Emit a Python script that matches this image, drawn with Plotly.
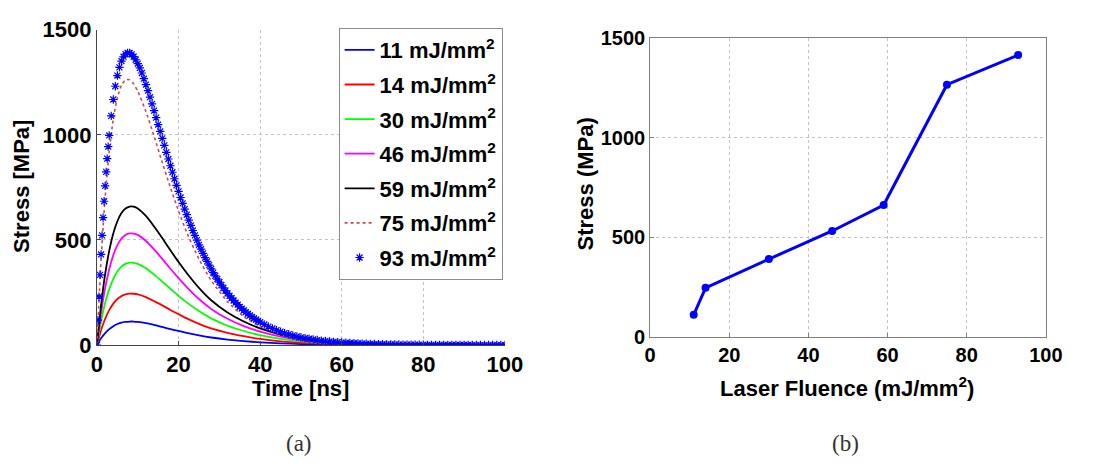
import plotly.graph_objects as go

W, H = 1102, 472

# ---------------- data: (a) stress vs time ----------------
time_ns = [0, 0.5, 1, 1.5, 2, 3, 4, 5, 6, 7, 8, 9, 10, 12, 14, 16, 18, 20, 22, 25,
           28, 32, 36, 40, 45, 50, 55, 60, 70, 80, 90, 100]
s11 = [0, 17, 32, 45, 57, 76, 90, 100, 107, 110, 112, 112, 110, 104, 96, 86, 76, 67, 58, 46,
       36, 26, 19, 13, 8, 5, 3, 2, 1, 0, 0, 0]
s14 = [0, 37, 70, 99, 125, 166, 197, 219, 233, 241, 245, 244, 241, 228, 209, 189, 167, 147, 127, 101,
       79, 58, 42, 29, 18, 11, 7, 4, 2, 1, 0, 0]
s30 = [0, 60, 113, 159, 200, 266, 315, 350, 373, 386, 392, 391, 386, 365, 335, 302, 268, 234, 203, 162,
       127, 92, 67, 47, 29, 18, 11, 7, 3, 1, 0, 0]
s46 = [0, 81, 153, 216, 271, 361, 428, 475, 506, 524, 531, 530, 524, 495, 455, 410, 363, 318, 276, 219,
       172, 125, 90, 64, 40, 24, 15, 9, 4, 2, 1, 0]
s59 = [0, 100, 189, 268, 337, 448, 531, 589, 628, 650, 659, 658, 650, 614, 564, 509, 451, 395, 343, 272,
       213, 155, 112, 79, 50, 30, 18, 11, 5, 2, 1, 0]
s75 = [0, 215, 401, 563, 702, 922, 1077, 1176, 1236, 1262, 1262, 1242, 1208, 1111, 993, 869, 749, 638, 536, 409,
       307, 206, 135, 89, 51, 29, 16, 9, 2, 0, 0, 0]

time93 = [0, 0.25, 0.5, 0.75, 1, 1.25, 1.5, 1.75, 2, 2.25, 2.5, 2.75, 3,
          3.5, 4, 4.5, 5, 5.5, 6, 6.5, 7, 7.5, 8, 8.5, 9, 9.5, 10, 10.5, 11, 11.5, 12, 12.5,
          13, 13.5, 14, 14.5, 15, 15.5, 16, 16.5, 17, 17.5, 18, 18.5, 19, 19.5, 20, 20.5, 21, 21.5,
          22, 22.5, 23, 23.5, 24, 24.5, 25, 25.5, 26, 26.5, 27, 27.5, 28, 28.5, 29, 29.5, 30, 30.5,
          31, 31.5, 32, 32.5, 33, 33.5, 34, 34.5, 35, 35.5, 36, 36.5, 37, 37.5, 38, 38.5, 39, 39.5, 40,
          41, 42, 43, 44, 45, 46, 47, 48, 49, 50, 51, 52, 53, 54, 55, 56, 57, 58, 59, 60,
          61, 62, 63, 64, 65, 66, 67, 68, 69, 70, 71, 72, 73, 74, 75, 76, 77, 78, 79, 80,
          81, 82, 83, 84, 85, 86, 87, 88, 89, 90, 91, 92, 93, 94, 95, 96, 97, 98, 99, 100]
s93 = [0, 119, 230, 334, 431, 522, 606, 684, 757, 824, 887, 944, 997,
       1090, 1168, 1231, 1282, 1321, 1351, 1371, 1384, 1390, 1389, 1383, 1372, 1357, 1339, 1318, 1294, 1267, 1239, 1210,
       1179, 1147, 1115, 1082, 1049, 1016, 983, 950, 917, 885, 853, 822, 791, 760, 731, 702, 674, 647,
       620, 594, 569, 545, 522, 499, 477, 456, 436, 416, 398, 380, 362, 345, 329, 314, 299, 285,
       272, 259, 246, 234, 223, 212, 202, 192, 182, 173, 165, 157, 149, 141, 134, 127, 121, 115, 109,
       98, 88, 79, 71, 64, 57, 52, 46, 41, 37, 33, 30, 27, 24, 21, 19, 17, 15, 14, 12,
       11, 10, 9, 8, 7, 6, 5.5, 4.9, 4.3, 3.9, 3.4, 3.1, 2.7, 2.4, 2.1, 1.9, 1.7, 1.5, 1.3, 1.2,
       1.0, 0.9, 0.8, 0.7, 0.6, 0.5, 0.5, 0.4, 0.4, 0.3, 0.3, 0.2, 0.2, 0.2, 0.2, 0.1, 0.1, 0.1, 0.1, 0.1]

legend_names = ["11 mJ/mm<sup>2</sup>", "14 mJ/mm<sup>2</sup>", "30 mJ/mm<sup>2</sup>",
                "46 mJ/mm<sup>2</sup>", "59 mJ/mm<sup>2</sup>", "75 mJ/mm<sup>2</sup>",
                "93 mJ/mm<sup>2</sup>"]

# ---------------- data: (b) peak stress vs fluence ----------------
fluence = [11, 14, 30, 46, 59, 75, 93]
peak_stress = [112, 247, 391, 532, 662, 1265, 1414]

x_ticks = [0, 20, 40, 60, 80, 100]
y_ticks = [0, 500, 1000, 1500]

FONT = "Liberation Sans, Arial, sans-serif"

fig = go.Figure()

line_series = [s11, s14, s30, s46, s59]
line_colors = ["#0000ff", "#ff0000", "#00ff00", "#ff00ff", "#000000"]
for name, vals, col in zip(legend_names[:5], line_series, line_colors):
    fig.add_trace(go.Scatter(x=time_ns, y=vals, mode="lines", name=name, legendgroup=name,
                             line=dict(color=col, width=1.8, shape="spline", smoothing=0.5),
                             xaxis="x", yaxis="y"))

fig.add_trace(go.Scatter(x=time_ns, y=s75, mode="lines", name=legend_names[5], legendgroup=legend_names[5],
                         line=dict(color="#cc4a4a", width=1.6, dash="dot", shape="spline", smoothing=0.5),
                         xaxis="x", yaxis="y"))
fig.add_trace(go.Scatter(x=time93, y=s93, mode="markers", name=legend_names[6], legendgroup=legend_names[6],
                         marker=dict(symbol="asterisk-open", size=7, color="#0000ff",
                                     line=dict(color="#0000ff", width=1.2)),
                         xaxis="x", yaxis="y"))

fig.add_trace(go.Scatter(x=fluence, y=peak_stress, mode="lines+markers", showlegend=False,
                         line=dict(color="#0000ff", width=3),
                         marker=dict(symbol="circle", size=8, color="#0000ff"),
                         xaxis="x2", yaxis="y2"))

def px_x(p):
    return p / W

def px_y(p):
    return 1 - p / H

grid = dict(showgrid=True, gridcolor="#c4c4c4", griddash="dot", gridwidth=1, zeroline=False)

fig.update_layout(
    width=W, height=H, margin=dict(l=0, r=0, t=0, b=0),
    paper_bgcolor="white", plot_bgcolor="white",
    font=dict(family=FONT, color="#000000"),
    xaxis=dict(domain=[px_x(93), px_x(510)], range=[0, 100], tickvals=x_ticks,
               showline=True, linecolor="#444444", linewidth=1, mirror=False,
               ticks="inside", ticklen=4, tickcolor="#444444",
               tickfont=dict(size=22, family=FONT, weight="bold"), anchor="y", **grid),
    yaxis=dict(domain=[px_y(351.7), px_y(18.7)], range=[0, 1500], tickvals=y_ticks,
               showline=True, linecolor="#444444", linewidth=1, mirror=False,
               ticks="inside", ticklen=4, tickcolor="#444444",
               tickfont=dict(size=22, family=FONT, weight="bold"), anchor="x", **grid),
    xaxis2=dict(domain=[px_x(658.5), px_x(1063)], range=[0, 100], tickvals=x_ticks,
                showline=True, linecolor="#808080", linewidth=1, mirror=True,
                ticks="inside", ticklen=4, tickcolor="#808080",
                tickfont=dict(size=20, family=FONT, weight="bold"), anchor="y2", **grid),
    yaxis2=dict(domain=[px_y(343.3), px_y(27.3)], range=[0, 1500], tickvals=y_ticks,
                showline=True, linecolor="#808080", linewidth=1, mirror=True,
                ticks="inside", ticklen=4, tickcolor="#808080",
                tickfont=dict(size=20, family=FONT, weight="bold"), anchor="x2", **grid),
    legend=dict(x=px_x(340), y=px_y(17), xanchor="left", yanchor="top",
                bgcolor="white", bordercolor="#8c8c8c", borderwidth=1,
                font=dict(size=22, family=FONT, weight="bold"),
                tracegroupgap=3, itemwidth=30),
)

ann_font = dict(size=22, family=FONT, weight="bold", color="#000000")
annotations = [
    dict(text="Time [ns]", x=px_x(301), y=px_y(398), xref="paper", yref="paper",
         showarrow=False, font=ann_font, xanchor="center", yanchor="middle"),
    dict(text="Stress [MPa]", x=px_x(16), y=px_y(184), xref="paper", yref="paper",
         showarrow=False, font=ann_font, textangle=-90, xanchor="center", yanchor="middle"),
    dict(text="Laser Fluence (mJ/mm<sup>2</sup>)", x=px_x(860), y=px_y(396), xref="paper", yref="paper",
         showarrow=False, font=ann_font, xanchor="center", yanchor="middle"),
    dict(text="Stress (MPa)", x=px_x(592), y=px_y(182), xref="paper", yref="paper",
         showarrow=False, font=ann_font, textangle=-90, xanchor="center", yanchor="middle"),
    dict(text="(a)", x=px_x(300), y=px_y(456), xref="paper", yref="paper",
         showarrow=False, font=dict(size=23, family="Liberation Serif, serif", color="#333333"),
         xanchor="center", yanchor="middle"),
    dict(text="(b)", x=px_x(858), y=px_y(456), xref="paper", yref="paper",
         showarrow=False, font=dict(size=23, family="Liberation Serif, serif", color="#333333"),
         xanchor="center", yanchor="middle"),
]
fig.update_layout(annotations=annotations)

fig.write_html("out.html")
